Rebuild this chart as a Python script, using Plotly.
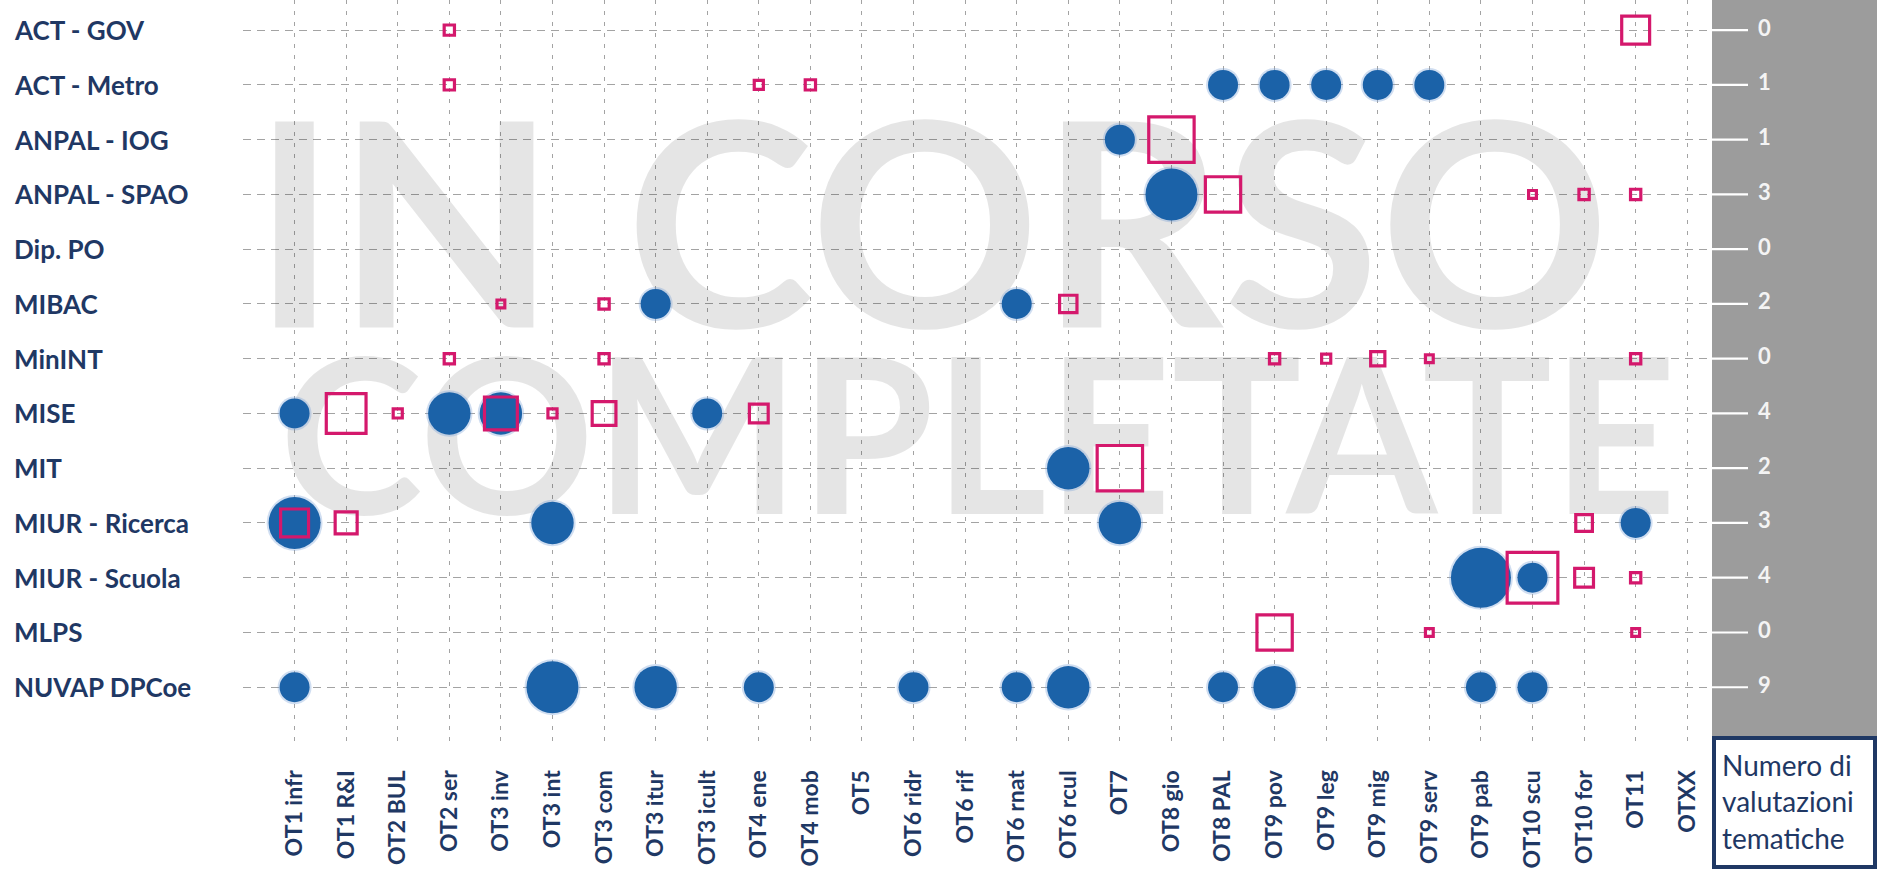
import numpy as np
import plotly.graph_objects as go

# ---------------- data ----------------
organismi = ["ACT - GOV", "ACT - Metro", "ANPAL - IOG", "ANPAL - SPAO", "Dip. PO", "MIBAC",
             "MinINT", "MISE", "MIT", "MIUR - Ricerca", "MIUR - Scuola", "MLPS", "NUVAP DPCoe"]

obiettivi = ["OT1 infr", "OT1 R&I", "OT2 BUL", "OT2 ser", "OT3 inv", "OT3 int", "OT3 com",
             "OT3 itur", "OT3 icult", "OT4 ene", "OT4 mob", "OT5", "OT6 ridr", "OT6 rif",
             "OT6 rnat", "OT6 rcul", "OT7", "OT8 gio", "OT8 PAL", "OT9 pov", "OT9 leg",
             "OT9 mig", "OT9 serv", "OT9 pab", "OT10 scu", "OT10 for", "OT11", "OTXX"]

valutazioni_tematiche = [0, 1, 1, 3, 0, 2, 0, 4, 2, 3, 4, 0, 9]

# blue circles
cerchi_org = ["ACT - Metro"] * 5 + ["ANPAL - IOG", "ANPAL - SPAO", "MIBAC", "MIBAC"] + \
             ["MISE"] * 4 + ["MIT"] + ["MIUR - Ricerca"] * 4 + ["MIUR - Scuola"] * 2 + \
             ["NUVAP DPCoe"] * 11
cerchi_ot = ["OT8 PAL", "OT9 pov", "OT9 leg", "OT9 mig", "OT9 serv",
             "OT7", "OT8 gio", "OT3 itur", "OT6 rnat",
             "OT1 infr", "OT2 ser", "OT3 inv", "OT3 icult",
             "OT6 rcul",
             "OT1 infr", "OT3 int", "OT7", "OT11",
             "OT9 pab", "OT10 scu",
             "OT1 infr", "OT3 int", "OT3 itur", "OT4 ene", "OT6 ridr", "OT6 rnat",
             "OT6 rcul", "OT8 PAL", "OT9 pov", "OT9 pab", "OT10 scu"]
cerchi_val = [1, 1, 1, 1, 1,
              1, 3, 1, 1,
              1, 2, 2, 1,
              2,
              3, 2, 2, 1,
              4, 1,
              1, 3, 2, 1, 1, 1, 2, 1, 2, 1, 1]

# pink squares
quadrati_org = ["ACT - GOV"] * 2 + ["ACT - Metro"] * 3 + ["ANPAL - IOG"] + ["ANPAL - SPAO"] * 4 + \
               ["MIBAC"] * 3 + ["MinINT"] * 7 + ["MISE"] * 6 + ["MIT"] + ["MIUR - Ricerca"] * 3 + \
               ["MIUR - Scuola"] * 3 + ["MLPS"] * 3
quadrati_ot = ["OT2 ser", "OT11",
               "OT2 ser", "OT4 ene", "OT4 mob",
               "OT8 gio",
               "OT8 PAL", "OT10 scu", "OT10 for", "OT11",
               "OT3 inv", "OT3 com", "OT6 rcul",
               "OT2 ser", "OT3 com", "OT9 pov", "OT9 leg", "OT9 mig", "OT9 serv", "OT11",
               "OT1 R&I", "OT2 BUL", "OT3 inv", "OT3 int", "OT3 com", "OT4 ene",
               "OT7",
               "OT1 infr", "OT1 R&I", "OT10 for",
               "OT10 scu", "OT10 for", "OT11",
               "OT9 pov", "OT9 serv", "OT11"]
quadrati_val = [6, 32,
                6, 5, 6,
                78,
                49, 4, 6, 6,
                4, 6, 14,
                6, 6, 6, 5, 10, 4, 6,
                61, 5, 43, 5, 24, 16,
                78,
                32, 21, 13,
                96, 16, 6,
                49, 4, 4]

# ---------------- styling ----------------
W, H = 1877, 869
NAVY = "#1F3864"
BLUE = "#1B62A8"
PINK = "#D4186C"
GRID = "#A3A3A3"
FONT = "Lato"

left_px, right_px, bottom_px = 243, 1712, 742
x_range = [-1, 27.48]
y_range = [13, -0.55]

xi = {o: i for i, o in enumerate(obiettivi)}
yi = {o: i for i, o in enumerate(organismi)}

cx = [xi[o] for o in cerchi_ot]
cy = [yi[o] for o in cerchi_org]
c_size = [30 * np.sqrt(v) for v in cerchi_val]

qx = [xi[o] for o in quadrati_ot]
qy = [yi[o] for o in quadrati_org]
LW = 3.2
q_size = [5.5 * np.sqrt(v) - LW for v in quadrati_val]

rows = list(range(len(organismi)))

fig = go.Figure()

# watermark
fig.add_trace(go.Scatter(
    x=[12.34, 13.25], y=[4.13, 7.85], mode="text", text=["IN CORSO", "COMPLETATE"],
    textfont=dict(family=FONT, size=[285, 217], color="rgba(0,0,0,0.1)", weight="bold"),
    hoverinfo="skip", showlegend=False))

# halo for circles
fig.add_trace(go.Scatter(
    x=cx, y=cy, mode="markers",
    marker=dict(symbol="circle", size=[s + 4 for s in c_size], color="rgba(120,160,215,0.35)",
                opacity=1, line=dict(width=0)),
    hoverinfo="skip", showlegend=False))

fig.add_trace(go.Scatter(
    x=cx, y=cy, mode="markers", name="in corso",
    marker=dict(symbol="circle", size=c_size, color=BLUE, opacity=1, line=dict(width=0)),
    customdata=cerchi_val, showlegend=False))

fig.add_trace(go.Scatter(
    x=qx, y=qy, mode="markers", name="completate",
    marker=dict(symbol="square-open", size=q_size, color=PINK, opacity=1,
                line=dict(width=LW, color=PINK)),
    customdata=quadrati_val, showlegend=False))

# right-hand grey panel: leader lines + number of thematic evaluations per row
lx, ly = [], []
for r in rows:
    lx += [0, 36, None]
    ly += [r, r, None]
fig.add_trace(go.Scatter(
    x=lx, y=ly, xaxis="x2", yaxis="y2", mode="lines",
    line=dict(color="white", width=2.2), hoverinfo="skip", showlegend=False))
fig.add_trace(go.Scatter(
    x=[46] * len(rows), y=rows, xaxis="x2", yaxis="y2", mode="text",
    text=[str(v) for v in valutazioni_tematiche], textposition="middle right",
    textfont=dict(family=FONT, size=22, color="#F4F4F4", weight="bold"),
    hoverinfo="skip", showlegend=False, cliponaxis=False))

annotations = []
for i, org in enumerate(organismi):
    annotations.append(dict(
        x=12 / W, xref="paper", y=i, yref="y", text=org, showarrow=False,
        xanchor="left", yanchor="middle",
        font=dict(family=FONT, size=26, color=NAVY, weight="bold")))

annotations.append(dict(
    x=1720 / W, xref="paper", y=(H - 801) / H, yref="paper",
    text="Numero di<br>valutazioni<br>tematiche", showarrow=False, align="left",
    xanchor="left", yanchor="middle",
    font=dict(family=FONT, size=28, color=NAVY)))

shapes = [
    dict(type="rect", xref="paper", yref="paper", x0=right_px / W, x1=1,
         y0=(H - 736) / H, y1=1, fillcolor="#9C9C9C", line=dict(width=0), layer="below"),
    dict(type="rect", xref="paper", yref="paper", x0=(right_px + 2) / W, x1=(W - 2) / W,
         y0=2 / H, y1=(H - 738) / H, fillcolor="white", line=dict(width=4, color=NAVY)),
]

fig.update_layout(
    width=W, height=H, autosize=False,
    margin=dict(l=0, r=0, t=0, b=0, autoexpand=False),
    paper_bgcolor="white", plot_bgcolor="rgba(0,0,0,0)",
    showlegend=False,
    annotations=annotations, shapes=shapes,
    xaxis=dict(
        domain=[left_px / W, right_px / W], range=x_range,
        tickmode="array", tickvals=list(range(-1, len(obiettivi))),
        ticktext=[""] + obiettivi, tickangle=-90,
        tickfont=dict(family=FONT, size=23, color=NAVY, weight="bold"),
        ticks="outside", ticklen=18, tickcolor="rgba(0,0,0,0)",
        showgrid=True, gridcolor=GRID, gridwidth=1.4, griddash="4px,7px",
        zeroline=False, showline=False, fixedrange=True),
    yaxis=dict(
        domain=[(H - bottom_px) / H, 1], range=y_range,
        tickmode="array", tickvals=list(range(0, len(organismi) + 1)),
        showticklabels=False, ticks="",
        showgrid=True, gridcolor=GRID, gridwidth=1.4, griddash="8px,6px",
        zeroline=False, showline=False, fixedrange=True),
    xaxis2=dict(
        domain=[right_px / W, 1], range=[0, W - right_px], anchor="y2",
        visible=False, showgrid=False, zeroline=False, fixedrange=True),
    yaxis2=dict(
        domain=[(H - bottom_px) / H, 1], range=y_range, anchor="x2",
        visible=False, showgrid=False, zeroline=False, fixedrange=True),
)

fig.write_html("out.html",
               config={"displayModeBar": False, "responsive": False},
               post_script="document.body.style.margin='0';")
